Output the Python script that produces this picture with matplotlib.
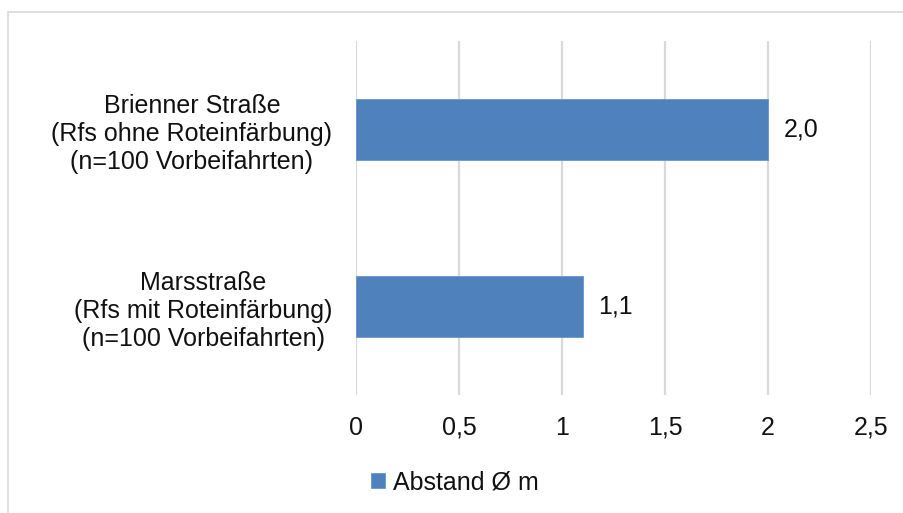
import matplotlib
matplotlib.use("Agg")
import matplotlib.pyplot as plt
from matplotlib.patches import Rectangle

plt.rcParams['font.family'] = ['Liberation Sans', 'DejaVu Sans']

categories = [
    "Marsstraße\n(Rfs mit Roteinfärbung)\n(n=100 Vorbeifahrten)",
    "Brienner Straße\n(Rfs ohne Roteinfärbung)\n(n=100 Vorbeifahrten)",
]
values = [1.1, 2.0]
value_labels = ["1,1", "2,0"]
xticks = [0, 0.5, 1, 1.5, 2, 2.5]
xtick_labels = ["0", "0,5", "1", "1,5", "2", "2,5"]
series_name = "Abstand Ø m"

FS = 18
W, H = 904, 513
fig = plt.figure(figsize=(W / 100, H / 100), dpi=100)
ax = fig.add_axes([356 / W, 1 - 395 / H, (871 - 356) / W, (395 - 41) / H])

# outer frame (left and top edges visible)
fig.patches.append(Rectangle((8 / W, -0.05), 1.2, 1 - 12 / H + 0.05,
                             transform=fig.transFigure, fill=False,
                             edgecolor='#D9D9D9', linewidth=1.2))

bar_color = '#4F81BD'
ypos = list(range(len(categories)))
bars = ax.barh(ypos, values, height=0.35, color=bar_color, label=series_name,
               edgecolor='#6A95C9', linewidth=0.6, zorder=3)

for b, lab in zip(bars, value_labels):
    ax.annotate(lab, (b.get_width(), b.get_y() + b.get_height() / 2),
                xytext=(11, 0), textcoords='offset points',
                va='center', ha='left', fontsize=FS, color='#111111')

ax.set_xlim(0, 2.5)
ax.set_ylim(-0.5, 1.5)
ax.set_xticks(xticks)
ax.set_xticklabels(xtick_labels)
ax.set_yticks(ypos)
ax.set_yticklabels(categories)
for t in ax.get_yticklabels():
    t.set_multialignment('center')

ax.tick_params(axis='x', length=0, pad=15, labelsize=FS, colors='#111111')
ax.tick_params(axis='y', length=0, pad=17, labelsize=FS, colors='#111111')
ax.grid(axis='x', color='#D9D9D9', linewidth=1.6, zorder=0)
ax.set_axisbelow(True)
for s in ax.spines.values():
    s.set_visible(False)

fig.legend(handles=[bars], labels=[series_name], loc='center',
           bbox_to_anchor=(455 / W, 1 - 482 / H), frameon=False,
           fontsize=FS, handlelength=0.55, handleheight=0.55,
           handletextpad=0.3, labelcolor='#111111')

fig.savefig("out.png", dpi=100, facecolor='white')
